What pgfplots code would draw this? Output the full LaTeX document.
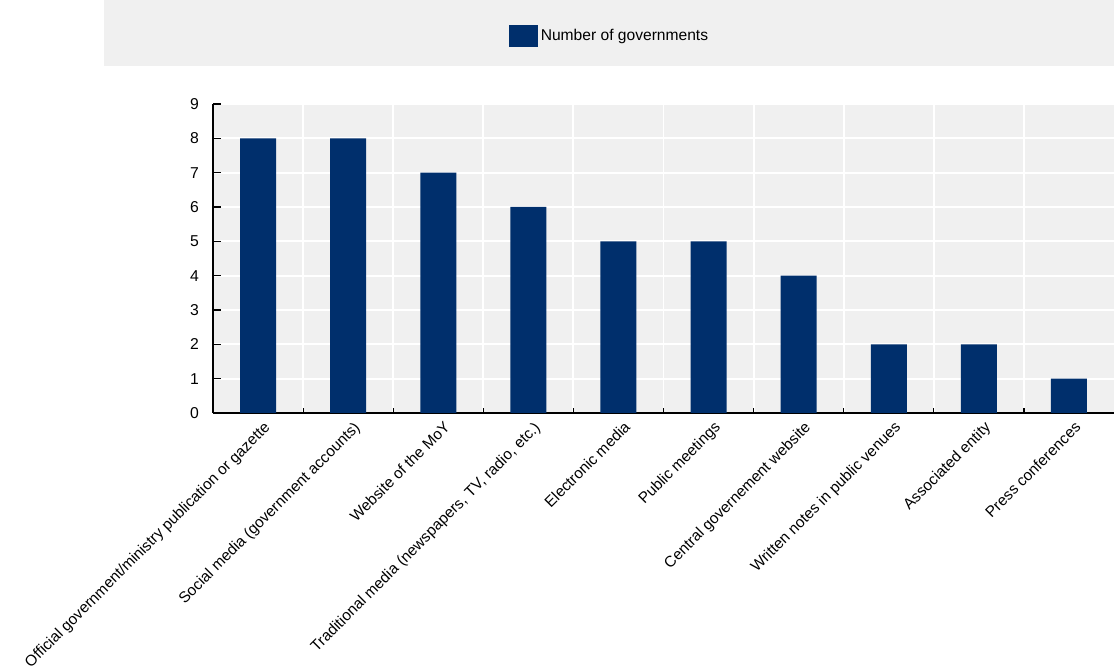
\documentclass[border=0pt]{standalone}
\usepackage{fontspec}
\setmainfont{Liberation Sans}
\usepackage{pgfplots}
\pgfplotsset{compat=1.18}
\definecolor{barblue}{RGB}{0,47,108}
\definecolor{bg}{RGB}{240,240,240}
\begin{document}
\begin{tikzpicture}[x=1pt,y=1pt]
\path[use as bounding box] (0,0) rectangle (835.5,502.5);
\fill[bg] (78,453) rectangle (835.5,502.5);
\begin{axis}[
  at={(159.75pt,192.75pt)}, anchor=south west,
  width=675.75pt, height=231.75pt, scale only axis,
  xmin=-0.5, xmax=9.5, ymin=0, ymax=9,
  axis background/.style={fill=bg},
  axis x line*=bottom, axis y line*=left,
  axis line style={black, line width=0.9pt},
  ytick={0,1,...,9},
  xtick={0,1,...,9},
  minor xtick={0.5,1.5,...,8.5},
  ymajorgrids, xminorgrids,
  major grid style={white, line width=1.4pt},
  minor grid style={white, line width=1.4pt},
  major tick length=6pt, minor tick length=3.75pt,
  major x tick style={draw=none},
  every tick/.style={black, line width=0.9pt},
  /pgf/number format/assume math mode=true,
  tick label style={font=\fontsize{11.8}{14}\selectfont},
  yticklabel style={xshift=-7pt},
  xticklabel style={rotate=45, anchor=north east, xshift=2pt, yshift=-3pt,
    font=\fontsize{11.5}{14}\selectfont},
  xticklabels={Official government/ministry publication or gazette,
    Social media (government accounts),
    Website of the MoY,
    {Traditional media (newspapers, TV, radio, etc.)},
    Electronic media,
    Public meetings,
    Central governement website,
    Written notes in public venues,
    Associated entity,
    Press conferences},
  legend style={at={(axis description cs:0.4406,1.22)}, anchor=center,
    draw=none, fill=none, font=\fontsize{11.7}{13}\selectfont},
  legend image code/.code={\fill[barblue] (0pt,-7.9pt) rectangle (21.75pt,7.9pt);},
]
\addplot[ybar, bar width=27pt, fill=barblue, draw=none]
  coordinates {(0,8)(1,8)(2,7)(3,6)(4,5)(5,5)(6,4)(7,2)(8,2)(9,1)};
\addlegendentry{Number of governments}
\end{axis}
\end{tikzpicture}
\end{document}
